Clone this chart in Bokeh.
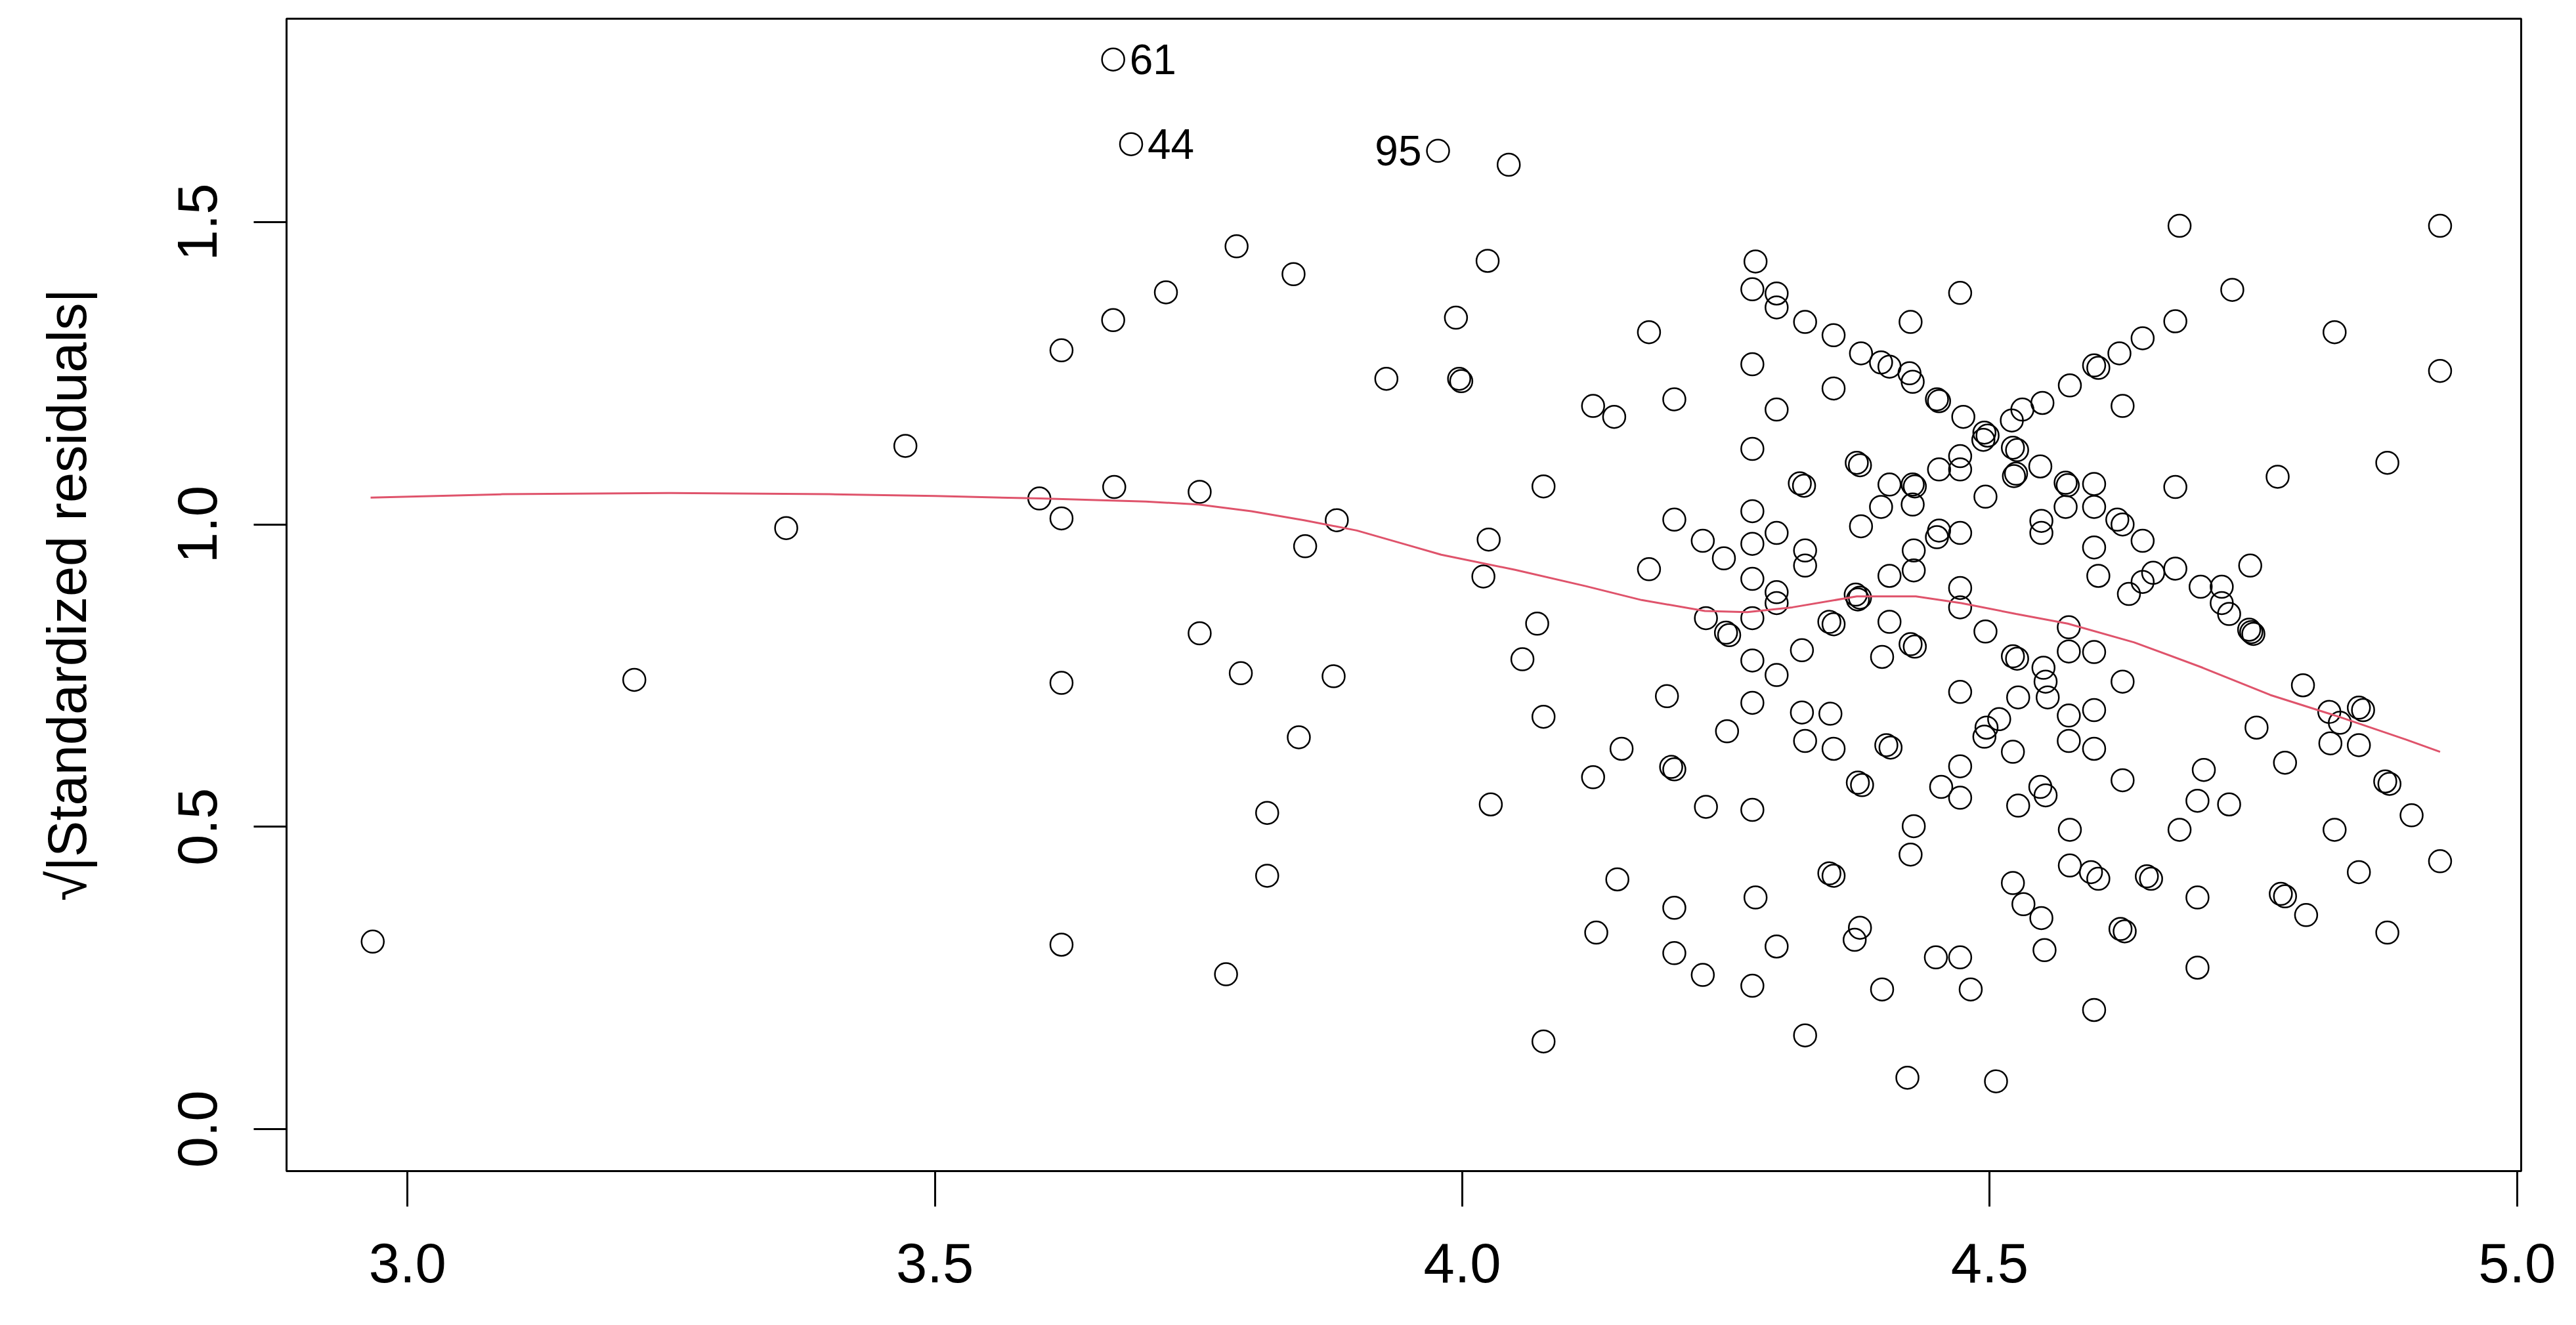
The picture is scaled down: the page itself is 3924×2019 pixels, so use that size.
from bokeh.plotting import figure
from bokeh.models import FixedTicker, PrintfTickFormatter, Range1d
from bokeh.embed import file_html
from bokeh.resources import INLINE
from bokeh.core.properties import value

# ---- data (fitted values vs sqrt|standardized residuals|) ----
fitted = [
    2.967, 3.215, 3.359, 3.472, 3.599, 3.620, 3.620, 3.620, 3.620, 3.669, 3.669, 3.670,
    3.686, 3.719, 3.751, 3.751, 3.776, 3.786, 3.790, 3.815, 3.815, 3.840, 3.845, 3.851,
    3.881, 3.878, 3.928, 3.977, 3.994, 3.997, 3.999, 4.024, 4.020, 4.025, 4.027, 4.044,
    4.057, 4.071, 4.077, 4.077, 4.077,
    4.177, 4.278, 4.275, 4.298, 4.298, 4.275, 4.124, 4.144, 4.201, 4.298, 4.275, 4.320, 4.324,
    4.472, 4.325, 4.425, 4.352, 4.378, 4.397, 4.405, 4.424, 4.427, 4.450, 4.452, 4.475,
    4.495, 4.498, 4.494, 4.352, 4.626, 4.623, 4.599, 4.603, 4.645, 4.576, 4.550, 4.531,
    4.521, 4.522, 4.526, 4.472, 4.472, 4.452, 4.525, 4.523, 4.548, 4.572, 4.574, 4.599,
    4.374, 4.377, 4.405, 4.427, 4.429, 4.496,
    4.680, 4.927, 4.730, 4.676, 4.827, 4.927, 4.676, 4.773, 4.877,
    4.201, 4.228, 4.248, 4.275, 4.275, 4.298, 4.275, 4.298, 4.298, 4.231, 4.250, 4.253,
    4.275, 4.177, 4.275, 4.298, 4.194, 4.275, 4.251, 4.151, 4.198, 4.201, 4.124, 4.231, 4.275,
    4.378, 4.397, 4.427, 4.325, 4.325, 4.452, 4.472, 4.450, 4.428, 4.428, 4.405, 4.549,
    4.549, 4.572, 4.599, 4.621, 4.626, 4.599, 4.645, 4.603, 4.632, 4.645, 4.655, 4.373,
    4.377, 4.375, 4.472, 4.472, 4.348, 4.352, 4.405, 4.425, 4.429, 4.322, 4.398, 4.496,
    4.522, 4.526, 4.575, 4.575, 4.599, 4.626, 4.551, 4.553, 4.555, 4.527, 4.509, 4.497,
    4.495, 4.472, 4.322, 4.349, 4.325, 4.352, 4.402, 4.406, 4.522, 4.575, 4.599, 4.575,
    4.599, 4.626, 4.375, 4.379, 4.472, 4.454, 4.472, 4.548, 4.553, 4.527,
    4.676, 4.700, 4.720, 4.720, 4.727, 4.747, 4.746, 4.748, 4.750, 4.797, 4.753, 4.822,
    4.832, 4.850, 4.854, 4.823, 4.850, 4.780, 4.875, 4.879, 4.703, 4.697, 4.727,
    4.680, 4.827, 4.900, 4.927, 4.850, 4.649, 4.653, 4.697, 4.776, 4.780, 4.800, 4.877, 4.697,
    4.428, 4.425, 4.348, 4.352, 4.576, 4.576, 4.596, 4.603, 4.522, 4.532, 4.549, 4.552,
    4.624, 4.628, 4.377, 4.372, 4.449, 4.472, 4.398, 4.482, 4.599, 4.325, 4.422, 4.506,
    4.147, 4.201, 4.278, 4.127, 4.201, 4.298, 4.228, 4.275,
]
sqrt_std_resid = [
    0.310, 0.743, 0.994, 1.130, 1.043, 1.288, 1.010, 0.738, 0.305, 1.769, 1.338, 1.062,
    1.629, 1.384, 1.054, 0.820, 0.256, 1.460, 0.754, 0.523, 0.419, 1.414, 0.648, 0.964,
    1.007, 0.749, 1.241, 1.618, 1.342, 1.241, 1.237, 1.436, 0.914, 0.975, 0.537, 1.595,
    0.777, 0.836, 1.063, 0.682, 0.145,
    1.318, 1.435, 1.389, 1.382, 1.359, 1.265, 1.196, 1.178, 1.207, 1.190, 1.125, 1.068, 1.064,
    1.383, 1.335, 1.335, 1.313, 1.283, 1.268, 1.261, 1.250, 1.236, 1.207, 1.204, 1.178,
    1.152, 1.147, 1.140, 1.225, 1.196, 1.283, 1.263, 1.259, 1.308, 1.230, 1.201, 1.190,
    1.172, 1.127, 1.123, 1.113, 1.091, 1.091, 1.084, 1.080, 1.096, 1.069, 1.065, 1.067,
    1.102, 1.098, 1.066, 1.066, 1.063, 1.046,
    1.494, 1.494, 1.388, 1.336, 1.318, 1.254, 1.062, 1.079, 1.102,
    1.008, 0.973, 0.944, 1.022, 0.968, 0.986, 0.910, 0.888, 0.870, 0.845, 0.821, 0.817,
    0.845, 0.926, 0.775, 0.751, 0.716, 0.705, 0.658, 0.629, 0.599, 0.595, 0.582, 0.533, 0.528,
    0.997, 1.029, 1.033, 0.957, 0.932, 0.990, 0.986, 0.979, 0.957, 0.924, 0.915, 1.006,
    0.986, 1.029, 1.029, 1.008, 1.000, 0.962, 0.973, 0.915, 0.885, 0.905, 0.920, 0.884,
    0.879, 0.876, 0.895, 0.863, 0.839, 0.835, 0.839, 0.802, 0.798, 0.792, 0.781, 0.823,
    0.782, 0.778, 0.830, 0.790, 0.789, 0.740, 0.763, 0.740, 0.714, 0.714, 0.678, 0.664,
    0.649, 0.723, 0.689, 0.687, 0.642, 0.629, 0.635, 0.631, 0.624, 0.684, 0.693, 0.642,
    0.629, 0.577, 0.573, 0.569, 0.600, 0.566, 0.548, 0.566, 0.552, 0.535,
    0.927, 0.897, 0.897, 0.870, 0.852, 0.932, 0.826, 0.822, 0.819, 0.734, 0.664, 0.690,
    0.672, 0.697, 0.693, 0.638, 0.635, 0.606, 0.575, 0.571, 0.594, 0.543, 0.537,
    0.495, 0.495, 0.519, 0.443, 0.425, 0.418, 0.414, 0.383, 0.389, 0.385, 0.354, 0.325, 0.267,
    0.501, 0.454, 0.423, 0.419, 0.495, 0.436, 0.425, 0.414, 0.407, 0.372, 0.349, 0.296,
    0.331, 0.327, 0.333, 0.313, 0.284, 0.284, 0.231, 0.231, 0.197, 0.155, 0.085, 0.079,
    0.413, 0.366, 0.383, 0.325, 0.291, 0.302, 0.255, 0.237,
]

# red smoother
smooth_x = [2.965, 3.09, 3.25, 3.40, 3.50, 3.60, 3.70, 3.75, 3.80, 3.85, 3.90, 3.95, 3.98,
            4.05, 4.117, 4.17, 4.23, 4.27, 4.313, 4.374, 4.43, 4.473, 4.525, 4.574, 4.637,
            4.702, 4.766, 4.831, 4.895, 4.927]
smooth_y = [1.0445, 1.050, 1.052, 1.050, 1.047, 1.043, 1.038, 1.033, 1.022, 1.007, 0.990,
            0.965, 0.950, 0.925, 0.898, 0.875, 0.857, 0.855, 0.863, 0.881, 0.881, 0.870,
            0.852, 0.836, 0.805, 0.763, 0.718, 0.682, 0.644, 0.624]

# identified points
id_labels = ["61", "44", "95"]
id_x = [3.669, 3.686, 3.977]
id_y = [1.769, 1.629, 1.618]
id_side = ["right", "right", "left"]

x_ticks = [3.0, 3.5, 4.0, 4.5, 5.0]
y_ticks = [0.0, 0.5, 1.0, 1.5]
y_title = "\u221a|Standardized residuals|"

FONT = "Liberation Sans"

p = figure(width=3908, height=2003, output_backend="svg", toolbar_location=None,
           x_range=Range1d(2.8853, 5.0039), y_range=Range1d(-0.0695, 1.8365),
           min_border_left=436, min_border_right=68, min_border_top=28, min_border_bottom=219)

p.background_fill_color = "white"
p.border_fill_color = "white"
p.outline_line_color = "black"
p.outline_line_width = 3
p.xgrid.visible = False
p.ygrid.visible = False

for ax in (p.xaxis[0], p.yaxis[0]):
    ax.axis_line_color = "black"
    ax.axis_line_width = 3
    ax.major_tick_line_color = "black"
    ax.major_tick_line_width = 3
    ax.major_tick_in = 0
    ax.minor_tick_line_color = None
    ax.major_label_text_font = FONT
    ax.major_label_text_font_size = "85px"
    ax.major_label_text_color = "black"
    ax.axis_label_text_font = FONT
    ax.axis_label_text_font_size = "83px"
    ax.axis_label_text_font_style = "normal"
    ax.axis_label_text_color = "black"
    ax.formatter = PrintfTickFormatter(format="%.1f")

p.xaxis[0].ticker = FixedTicker(ticks=x_ticks)
p.xaxis[0].major_tick_out = 54
p.xaxis[0].major_label_standoff = 56

p.yaxis[0].ticker = FixedTicker(ticks=y_ticks)
p.yaxis[0].major_tick_out = 50
p.yaxis[0].major_label_orientation = "vertical"
p.yaxis[0].major_label_standoff = 56
p.yaxis[0].axis_label = y_title
p.yaxis[0].axis_label_standoff = 120

p.scatter(fitted, sqrt_std_resid, marker="circle", size=34, fill_color=None,
          line_color="black", line_width=2.5)

p.line(smooth_x, smooth_y, line_color="#DF536B", line_width=3)

rx = [x for x, s in zip(id_x, id_side) if s == "right"]
ry = [y for y, s in zip(id_y, id_side) if s == "right"]
rt = [t for t, s in zip(id_labels, id_side) if s == "right"]
lx = [x for x, s in zip(id_x, id_side) if s == "left"]
ly = [y for y, s in zip(id_y, id_side) if s == "left"]
lt = [t for t, s in zip(id_labels, id_side) if s == "left"]

p.text(x=rx, y=ry, text=rt, x_offset=25, text_align="left", text_baseline="middle",
       text_font=value(FONT), text_font_size="64px", text_color="black")
p.text(x=lx, y=ly, text=lt, x_offset=-25, text_align="right", text_baseline="middle",
       text_font=value(FONT), text_font_size="64px", text_color="black")

open("out.html", "w").write(file_html(p, INLINE))
